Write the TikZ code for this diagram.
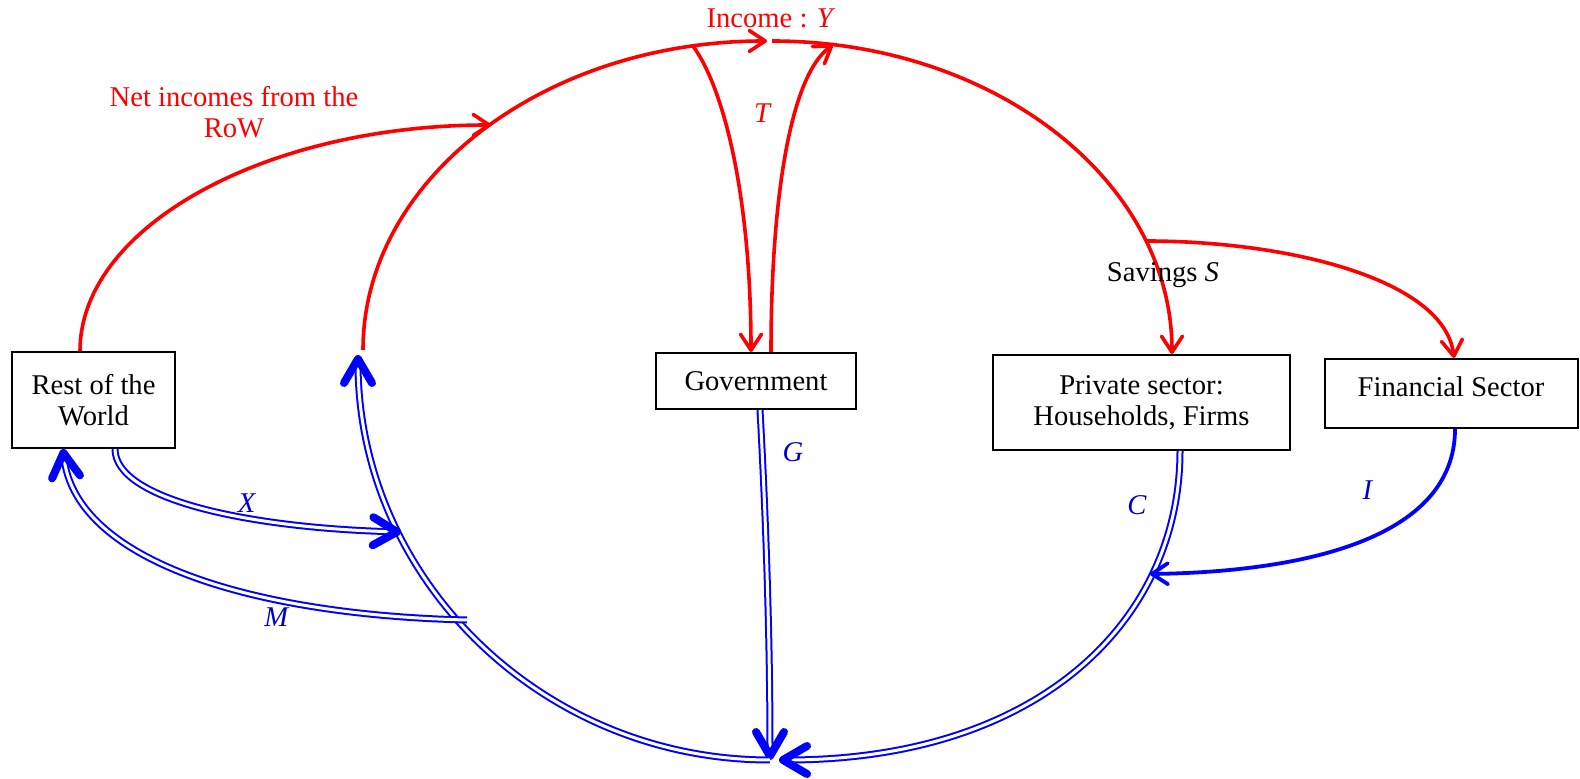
\documentclass[tikz,border=0pt]{standalone}
\usepackage{fontspec}
\setmainfont{Liberation Serif}
\usetikzlibrary{arrows.meta}
\begin{document}
\begin{tikzpicture}[x=0.5pt,y=-0.5pt,
  txt/.style={font=\fontsize{14.3}{15.5}\selectfont, inner sep=0pt, align=center},
  box/.style={txt, draw=black, line width=1pt, fill=white},
  redtext/.style={txt, text=red},
  bluetext/.style={txt, text=blue!80!black},
  redline/.style={draw=red, line width=1.8pt},
  thintip/.style={-{Straight Barb[length=8pt,width=10.5pt,round]}},
  blueflow/.style={draw=blue, line width=1pt, double=white, double distance=1.5pt},
  boldtip/.style={-{Straight Barb[length=12pt,width=14pt,line width'=4pt,round]}},
  bluesingle/.style={draw=blue, line width=1.9pt}
]
\useasboundingbox (0,0) rectangle (1580,779);

% boxes
\node[box, minimum width=81.5pt, minimum height=48pt] (row) at (93.5,400) {Rest of the\\World};
\node[box, minimum width=100pt, minimum height=28pt] (gov) at (756,381) {Government};
\node[box, minimum width=148.5pt, minimum height=47.5pt] (priv) at (1141.5,402.5) {Private sector:\\Households, Firms};
\node[box, minimum width=126.5pt, minimum height=34.5pt] (fin) at (1451.5,393.5) {};
\node[txt] (fintxt) at (1451,387) {Financial Sector};

% junction coordinates
\coordinate (a0) at (363,350);
\coordinate (incL) at (767,41);
\coordinate (incR) at (772,41);
\coordinate (tS) at (693,46);
\coordinate (gE) at (833,45);
\coordinate (ni) at (491,125);
\coordinate (sv) at (1146,241);
\coordinate (sink) at (770,760);
\coordinate (sinkR) at (779,760);
\coordinate (arcTop) at (358,355);
\coordinate (xE) at (401,532);
\coordinate (mS) at (467,620);
\coordinate (iE) at (1150,574);

% red flows
\draw[redline, thintip] (a0) .. controls (363,179) and (544,41) .. (incL);
\draw[redline, thintip] (incR) .. controls (993,41) and (1172,180) .. (priv.north -| 1172,0);
\draw[redline, thintip] (tS) .. controls (725,90) and (751,200) .. (gov.north -| 751,0);
\draw[redline, thintip] (gov.north -| 771,0) .. controls (771,200) and (790,75) .. (gE);
\draw[redline, thintip] (row.north -| 80,0) .. controls (80,227) and (265,125) .. (ni);
\draw[redline, thintip] (sv) .. controls (1290,241) and (1445,280) .. (fin.north -| 1454,0);

% blue flows
\draw[blueflow, boldtip] (gov.south -| 760,0) .. controls (766,520) and (770,640) .. (sink);
\draw[blueflow, boldtip] (priv.south -| 1180,0) .. controls (1180,620) and (1040,760) .. (sinkR);
\draw[blueflow, boldtip] (sink) .. controls (542,760) and (358,579) .. (arcTop);
\draw[blueflow, boldtip] (row.south -| 115,0) .. controls (115,500) and (250,528) .. (xE);
\draw[blueflow, boldtip] (mS) .. controls (250,615) and (75,560) .. (row.south -| 63,0);
\draw[bluesingle, thintip] (fin.south -| 1455,0) .. controls (1455,540) and (1300,572) .. (iE);

% labels
\node[redtext] (lincome) at (771,18) {Income : \textit{Y}};
\node[redtext] (lt) at (763,113) {\textit{T}};
\node[redtext] (lnet) at (234,112) {Net incomes from the\\RoW};
\node[txt] (lsav) at (1163,275) {Savings \textit{S}};
\node[bluetext] (lx) at (247,503) {\textit{X}};
\node[bluetext] (lm) at (277,617) {\textit{M}};
\node[bluetext] (lg) at (793,452) {\textit{G}};
\node[bluetext] (lc) at (1137,505) {\textit{C}};
\node[bluetext] (li) at (1368,490) {\textit{I}};
\end{tikzpicture}
\end{document}
